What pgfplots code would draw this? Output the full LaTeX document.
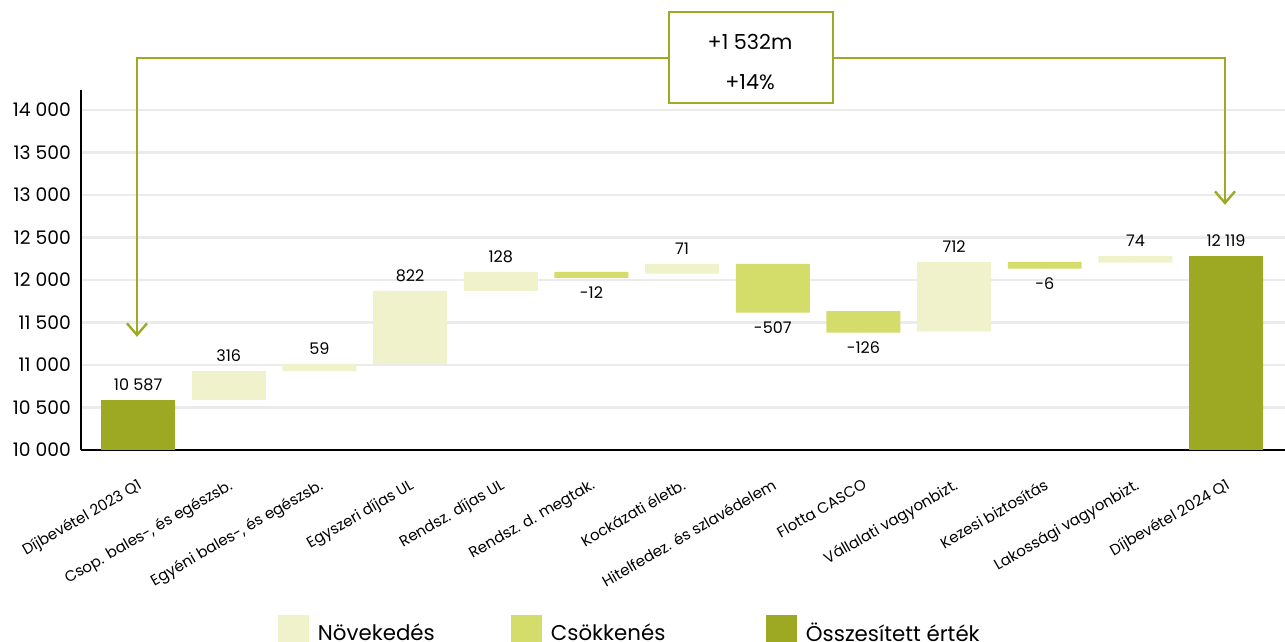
\documentclass[border=0pt]{standalone}
\usepackage{pgfplots}
\usepackage{pgfplotstable}
\pgfplotsset{compat=1.18}
\usepackage{fontspec}
\setmainfont{Poppins}
\definecolor{inc}{HTML}{F0F2CC}
\definecolor{dec}{HTML}{D4DC6A}
\definecolor{tot}{HTML}{9DA823}
\definecolor{gridc}{HTML}{EBEBEB}
\definecolor{arr}{HTML}{9DAA26}

% x: position, base: invisible base, inc/dec/tot: visible heights
\pgfplotstableread{
x base inc dec tot
0  0     0   0   10588
1  10588 341 0   0
2  10929 83  0   0
3  11012 859 0   0
4  11871 223 0   0
5  12024 0   70  0
6  12074 114 0   0
7  11616 0   572 0
8  11380 0   255 0
9  11392 820 0   0
10 12133 0   79  0
11 12204 78  0   0
12 0     0   0   12282
}\wf
% value labels above bars (at bar top)
\pgfplotstableread{
x y l
0  10588 {10 587}
1  10929 316
2  11012 59
3  11871 822
4  12094 128
6  12188 71
9  12212 712
11 12282 74
12 12282 {12 119}
}\labove
% value labels below bars (at bar bottom)
\pgfplotstableread{
x y l
5  12024 -12
7  11616 -507
8  11380 -126
10 12133 -6
}\lbelow

\pgfplotsset{geom/.style={
  at={(60.75pt,144pt)}, anchor=south west,
  scale only axis, width=903pt, height=270pt,
  xmin=-0.63, xmax=12.65, ymin=10000, ymax=14235}}

\begin{document}
\begin{tikzpicture}
\begin{axis}[
  geom,
  ybar stacked, bar width=0.816,
  axis x line*=bottom, axis y line*=left,
  axis line style={black, line width=1.5pt},
  scaled y ticks=false,
  ytick={10000,10500,11000,11500,12000,12500,13000,13500,14000},
  yticklabels={10 000,10 500,11 000,11 500,12 000,12 500,13 000,13 500,14 000},
  ymajorgrids, grid style={gridc, line width=2pt},
  major tick length=0pt,
  yticklabel style={font=\fontsize{14}{16}\selectfont, inner sep=0pt, xshift=-7.5pt},
  xtick={0,...,12},
  xticklabels={Díjbevétel 2023 Q1,{Csop. bales-, és egészsb.},{Egyéni bales-, és egészsb.},Egyszeri díjas UL,Rendsz. díjas UL,Rendsz. d. megtak.,Kockázati életb.,Hitelfedez. és szlavédelem,Flotta CASCO,Vállalati vagyonbizt.,Kezesi biztosítás,Lakossági vagyonbizt.,Díjbevétel 2024 Q1},
  xticklabel style={yshift=-21pt, xshift=-1pt, rotate=30, anchor=north east, font=\fontsize{11.3}{13}\selectfont, inner sep=0pt},
  legend columns=3,
  legend image code/.code={\fill[#1] (0pt,-9.5pt) rectangle (23.25pt,13.75pt);},
  legend style={at={(0.1636,-0.4583)}, anchor=north west, draw=none, fill=none,
    inner sep=0pt, outer sep=0pt, font=\fontsize{16}{19}\selectfont,
    nodes={inner sep=0pt},
    /tikz/every odd column/.style={column sep=6.75pt},
    /tikz/every even column/.style={column sep=0pt}},
]
\addplot[draw=none, fill=none, forget plot] table[x=x, y=base] {\wf};
\addplot[draw=none, fill=inc] table[x=x, y=inc] {\wf};
\addplot[draw=none, fill=dec] table[x=x, y=dec] {\wf};
\addplot[draw=none, fill=tot] table[x=x, y=tot] {\wf};
\legend{\makebox[144.75pt][l]{Növekedés},\makebox[161.25pt][l]{Csökkenés},Összesített érték}
\end{axis}
\begin{axis}[
  geom, hide axis, clip=false,
  point meta=explicit symbolic,
  nodes near coords,
  every node near coord/.append style={font=\fontsize{12}{14}\selectfont, inner sep=0pt, text=black},
]
\addplot[only marks, mark=*, mark size=0pt, mark options={draw=none, fill=none},
  every node near coord/.append style={anchor=south, yshift=6.75pt}]
  table[x=x, y=y, meta=l] {\labove};
\addplot[only marks, mark=*, mark size=0pt, mark options={draw=none, fill=none},
  every node near coord/.append style={anchor=north, yshift=-6.5pt}]
  table[x=x, y=y, meta=l] {\lbelow};
\end{axis}
% annotation bracket (pixel-mapped: x=0.75*px, y=0.75*(642-py))
\draw[arr, line width=1.8pt] (102.75pt,230.25pt) -- (102.75pt,438pt) -- (501.75pt,438pt);
\draw[arr, line width=1.8pt] (624pt,438pt) -- (918.75pt,438pt) -- (918.75pt,329.25pt);
\draw[arr, line width=1.8pt] (95.25pt,239pt) -- (102.75pt,230.25pt) -- (110.25pt,239pt);
\draw[arr, line width=1.8pt] (911.25pt,338pt) -- (918.75pt,329.25pt) -- (926.25pt,338pt);
\draw[arr, line width=1.8pt, fill=white] (501.75pt,404.25pt) rectangle (624.75pt,472.5pt);
\node[font=\fontsize{15.5}{17}\selectfont] at (562.5pt,450pt) {+1 532m};
\node[font=\fontsize{15.5}{17}\selectfont] at (562.5pt,420pt) {+14\%};
\pgfresetboundingbox
\useasboundingbox (0pt,0pt) rectangle (963.75pt,481.5pt);
\end{tikzpicture}
\end{document}
